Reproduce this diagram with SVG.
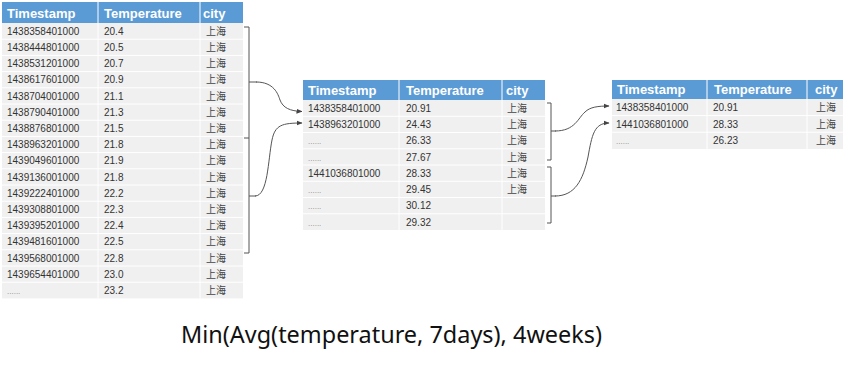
<svg xmlns="http://www.w3.org/2000/svg" width="858" height="366" viewBox="0 0 858 366">
<style>
.hd{fill:#5B9BD5}
.bd{fill:#F0F0F0}
.sep{stroke:#FFFFFF;stroke-width:1}
.ht{font-family:"Liberation Sans","Noto Sans",sans-serif;font-size:13px;font-weight:bold;fill:#FFFFFF}
.t{font-family:"Liberation Sans","Noto Sans CJK SC",sans-serif;font-size:10px;fill:#333333}
.c{font-family:"Noto Sans CJK SC",sans-serif;font-size:10px;fill:#444444}
.d{font-family:"Liberation Sans",sans-serif;font-size:8px;fill:#888888}
.br{fill:none;stroke:#555555;stroke-width:1}
.cn{fill:none;stroke:#555555;stroke-width:1;marker-end:url(#ah)}
.f{font-family:"Noto Sans","Liberation Sans",sans-serif;font-size:23px;fill:#111111}
</style>
<defs>
<marker id="ah" viewBox="0 0 6 6" refX="5.5" refY="3" markerWidth="6" markerHeight="6" markerUnits="userSpaceOnUse" orient="auto">
<path d="M0,0.5 L6,3 L0,5.5 Z" fill="#444444"/>
</marker>
</defs>
<rect width="858" height="366" fill="#FFFFFF"/>

<g id="table1">
<rect class="hd" x="2" y="2" width="241" height="21"/>
<rect class="bd" x="2" y="23" width="241" height="275.4"/>
<path class="sep" d="M98,2V298 M200,2V298 M2,39.2H243 M2,55.4H243 M2,71.6H243 M2,87.8H243 M2,104H243 M2,120.2H243 M2,136.4H243 M2,152.6H243 M2,168.8H243 M2,185H243 M2,201.2H243 M2,217.4H243 M2,233.6H243 M2,249.8H243 M2,266H243 M2,282.2H243"/>
<text class="ht" x="7" y="17.5">Timestamp</text>
<text class="ht" x="104" y="17.5">Temperature</text>
<text class="ht" x="203" y="17.5">city</text>
<g class="t">
<text x="7" y="34.7">1438358401000</text><text x="104" y="34.7">20.4</text>
<text x="7" y="50.9">1438444801000</text><text x="104" y="50.9">20.5</text>
<text x="7" y="67.1">1438531201000</text><text x="104" y="67.1">20.7</text>
<text x="7" y="83.3">1438617601000</text><text x="104" y="83.3">20.9</text>
<text x="7" y="99.5">1438704001000</text><text x="104" y="99.5">21.1</text>
<text x="7" y="115.7">1438790401000</text><text x="104" y="115.7">21.3</text>
<text x="7" y="131.9">1438876801000</text><text x="104" y="131.9">21.5</text>
<text x="7" y="148.1">1438963201000</text><text x="104" y="148.1">21.8</text>
<text x="7" y="164.3">1439049601000</text><text x="104" y="164.3">21.9</text>
<text x="7" y="180.5">1439136001000</text><text x="104" y="180.5">21.8</text>
<text x="7" y="196.7">1439222401000</text><text x="104" y="196.7">22.2</text>
<text x="7" y="212.9">1439308801000</text><text x="104" y="212.9">22.3</text>
<text x="7" y="229.1">1439395201000</text><text x="104" y="229.1">22.4</text>
<text x="7" y="245.3">1439481601000</text><text x="104" y="245.3">22.5</text>
<text x="7" y="261.5">1439568001000</text><text x="104" y="261.5">22.8</text>
<text x="7" y="277.7">1439654401000</text><text x="104" y="277.7">23.0</text>
<text x="104" y="293.9">23.2</text>
</g>
<text class="d" x="7" y="293.9">......</text>
<g class="c">
<text x="206" y="34.7">上海</text><text x="206" y="50.9">上海</text><text x="206" y="67.1">上海</text><text x="206" y="83.3">上海</text>
<text x="206" y="99.5">上海</text><text x="206" y="115.7">上海</text><text x="206" y="131.9">上海</text><text x="206" y="148.1">上海</text>
<text x="206" y="164.3">上海</text><text x="206" y="180.5">上海</text><text x="206" y="196.7">上海</text><text x="206" y="212.9">上海</text>
<text x="206" y="229.1">上海</text><text x="206" y="245.3">上海</text><text x="206" y="261.5">上海</text><text x="206" y="277.7">上海</text>
<text x="206" y="293.9">上海</text>
</g>
</g>

<g id="table2">
<rect class="hd" x="303" y="80" width="242" height="20"/>
<rect class="bd" x="303" y="100" width="242" height="130"/>
<path class="sep" d="M399,80V230 M502,80V230 M303,116.25H545 M303,132.5H545 M303,148.75H545 M303,165H545 M303,181.25H545 M303,197.5H545 M303,213.75H545"/>
<text class="ht" x="308" y="94.5">Timestamp</text>
<text class="ht" x="406" y="94.5">Temperature</text>
<text class="ht" x="506" y="94.5">city</text>
<g class="t">
<text x="308" y="111.7">1438358401000</text><text x="406" y="111.7">20.91</text>
<text x="308" y="128">1438963201000</text><text x="406" y="128">24.43</text>
<text x="406" y="144.2">26.33</text>
<text x="406" y="160.5">27.67</text>
<text x="308" y="176.7">1441036801000</text><text x="406" y="176.7">28.33</text>
<text x="406" y="193">29.45</text>
<text x="406" y="209.2">30.12</text>
<text x="406" y="225.5">29.32</text>
</g>
<g class="d">
<text x="308" y="144.2">......</text>
<text x="308" y="160.5">......</text>
<text x="308" y="193">......</text>
<text x="308" y="209.2">......</text>
<text x="308" y="225.5">......</text>
</g>
<g class="c">
<text x="507" y="111.7">上海</text><text x="507" y="128">上海</text><text x="507" y="144.2">上海</text>
<text x="507" y="160.5">上海</text><text x="507" y="176.7">上海</text><text x="507" y="193">上海</text>
</g>
</g>

<g id="table3">
<rect class="hd" x="612" y="80" width="231" height="19"/>
<rect class="bd" x="612" y="99" width="231" height="50"/>
<path class="sep" d="M707,80V149 M807,80V149 M612,115.6H843 M612,132.2H843"/>
<text class="ht" x="617" y="94">Timestamp</text>
<text class="ht" x="714" y="94">Temperature</text>
<text class="ht" x="815" y="94">city</text>
<g class="t">
<text x="616" y="110.9">1438358401000</text><text x="713" y="110.9">20.91</text>
<text x="616" y="127.5">1441036801000</text><text x="713" y="127.5">28.33</text>
<text x="713" y="144.1">26.23</text>
</g>
<text class="d" x="616" y="144.1">......</text>
<g class="c">
<text x="816" y="110.9">上海</text><text x="816" y="127.5">上海</text><text x="816" y="144.1">上海</text>
</g>
</g>

<g id="connectors">
<path class="br" d="M244,27H249V253H244 M244,138H249 M249,82H257 M249,196H256"/>
<path class="br" d="M547,103H551V160H547 M547,167H551V223H547 M551,131H556 M551,196H556"/>
<path class="cn" d="M256,82C274,82 278,94 280,100C283,108 290,111 302,111.5"/>
<path class="cn" d="M255,196C268,196 268,160 272,140C275,125 282,123 302,123"/>
<path class="cn" d="M555,131C575,131 578,118 585,112C590,107 598,106 609,106"/>
<path class="cn" d="M555,196C575,196 583,180 588,157C592,135 594,123 609,123"/>
</g>

<text class="f" x="181" y="343" textLength="421" lengthAdjust="spacingAndGlyphs">Min(Avg(temperature, 7days), 4weeks)</text>
</svg>
